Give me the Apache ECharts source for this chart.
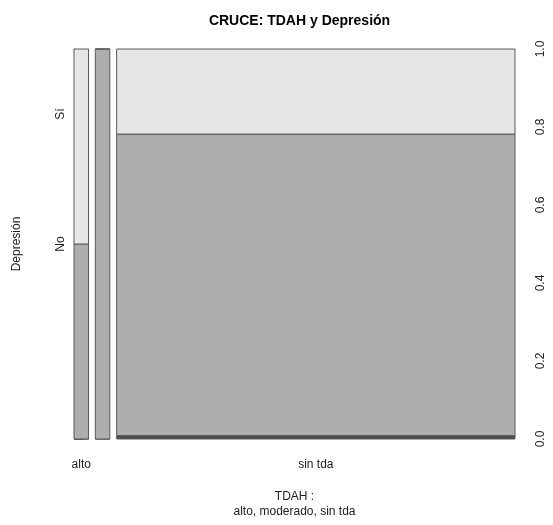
<!DOCTYPE html>
<html><head><meta charset="utf-8">
<script src="https://cdn.jsdelivr.net/npm/echarts@6/dist/echarts.min.js"></script>
<style>html,body{margin:0;padding:0;background:#fff}#c{width:553px;height:525px}</style>
</head><body><div id="c"></div>
<script>
// ---- data ----
const categories = ['alto', 'moderado', 'sin tda'];
const levels = ['', 'No', 'Sí'];
const countsEmpty = [0, 0, 1];
const countsNo = [2, 4, 85];
const countsSi = [2, 0, 24];
const yTicks = [0, 0.2, 0.4, 0.6, 0.8, 1.0];

// ---- styling ----
const levelColors = ['#4D4D4D', '#AEAEAE', '#E6E6E6'];
const borderColor = '#5a5a5a';
const off = 0.016;
const FONT = '"Liberation Sans", Arial, Helvetica, sans-serif';

// ---- build spine rectangles from the counts ----
const byLevel = [countsEmpty, countsNo, countsSi];
const colTotals = categories.map((c, i) => byLevel.reduce((s, a) => s + a[i], 0));
const grand = colTotals.reduce((a, b) => a + b, 0);
const rects = [];
const mids = [];
let xPos = 0;
categories.forEach((c, i) => {
  const w = colTotals[i] / grand;
  let y = 0;
  byLevel.forEach((arr, j) => {
    const h = arr[i] / colTotals[i];
    rects.push([xPos, xPos + w, y, y + h, j]);
    y += h;
  });
  mids.push(xPos + w / 2);
  xPos += w + off;
});
const xMax = xPos - off;

const chart = echarts.init(document.getElementById('c'), null, {renderer: 'canvas'});

function renderRect(params, api) {
  const p0 = api.coord([api.value(0), api.value(2)]);
  const p1 = api.coord([api.value(1), api.value(3)]);
  return {
    type: 'rect',
    shape: {x: p0[0], y: p1[1], width: p1[0] - p0[0], height: p0[1] - p1[1]},
    style: {fill: levelColors[api.value(4)], stroke: borderColor, lineWidth: 1}
  };
}
function renderXLabel(params, api) {
  const p = api.coord([api.value(0), 0]);
  return {
    type: 'text',
    style: {
      x: p[0], y: p[1] + 26, text: categories[api.value(1)],
      font: '12px ' + FONT, fill: '#222', align: 'center', verticalAlign: 'middle'
    }
  };
}

const option = {
  animation: false,
  backgroundColor: '#fff',
  title: {
    text: 'CRUCE: TDAH y Depresión',
    left: 294.5, top: 9, textAlign: 'center',
    textStyle: {fontFamily: FONT, fontSize: 14, fontWeight: 'bold', color: '#000'}
  },
  grid: {left: 74, right: 38, top: 49, bottom: 86},
  xAxis: {
    type: 'value', min: 0, max: xMax,
    axisLine: {show: false}, axisTick: {show: false}, axisLabel: {show: false}, splitLine: {show: false},
    name: 'TDAH :\nalto, moderado, sin tda', nameLocation: 'middle', nameGap: 50,
    nameTextStyle: {fontFamily: FONT, fontSize: 12, color: '#222', lineHeight: 15, verticalAlign: 'top'}
  },
  yAxis: [
    {
      type: 'value', position: 'right', min: 0, max: 1, interval: 0.2,
      axisLine: {show: true, lineStyle: {color: '#444', width: 1}},
      axisTick: {show: true, length: 9, lineStyle: {color: '#444'}},
      splitLine: {show: false},
      axisLabel: {
        rotate: 90, margin: 20, align: 'center', verticalAlign: 'top',
        fontFamily: FONT, fontSize: 12, color: '#222',
        formatter: v => v.toFixed(1)
      }
    },
    {
      type: 'category', position: 'left', data: levels, boundaryGap: true,
      axisLine: {show: false}, axisTick: {show: false}, splitLine: {show: false},
      axisLabel: {
        rotate: 90, margin: 7, align: 'center', verticalAlign: 'bottom',
        fontFamily: FONT, fontSize: 12, color: '#222', interval: 0
      },
      name: 'Depresión', nameLocation: 'middle', nameGap: 51, nameRotate: 90,
      nameTextStyle: {fontFamily: FONT, fontSize: 12, color: '#222'}
    }
  ],
  series: [
    {type: 'custom', name: 'spine', xAxisIndex: 0, yAxisIndex: 0, renderItem: renderRect, data: rects, clip: false},
    {type: 'custom', name: 'xlabels', xAxisIndex: 0, yAxisIndex: 0, renderItem: renderXLabel, data: [], clip: false}
  ]
};
chart.setOption(option);

// drop overlapping category labels (like R's axis does)
const ctx = document.createElement('canvas').getContext('2d');
ctx.font = '12px ' + FONT;
const shown = [];
let lastRight = -Infinity;
mids.forEach((m, i) => {
  const px = chart.convertToPixel({xAxisIndex: 0}, m);
  const w = ctx.measureText(categories[i]).width;
  if (px - w / 2 > lastRight + 6) {
    shown.push([m, i]);
    lastRight = px + w / 2;
  }
});
chart.setOption({series: [{}, {data: shown}]});
</script></body></html>
